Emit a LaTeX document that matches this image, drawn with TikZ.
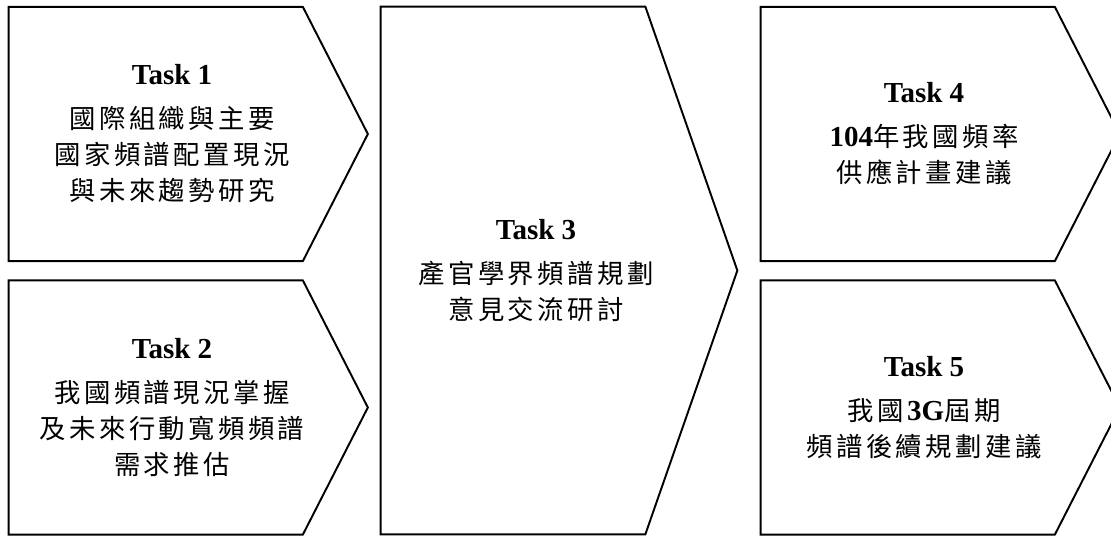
\documentclass[tikz,border=0pt]{standalone}
\usepackage{fontspec}
\setmainfont{Liberation Serif}
\newfontfamily\cjk[LetterSpace=13]{Noto Sans CJK TC}
\newcommand{\zh}[1]{{\cjk\fontsize{15}{20.5}\selectfont #1}}
\usetikzlibrary{calc}

\tikzset{
	task/.style={inner sep=0pt, minimum width=6.52cm, minimum height=5.07cm, align=center, font=\fontsize{16.5}{20.5}\selectfont},
	outline/.style={line width=1.1pt, line join=miter},
}

\begin{document}
\begin{tikzpicture}
	\useasboundingbox (0,0) rectangle (22.22,-10.76);

	\node [task] (T1) at (3.44,-2.68) {\textbf{Task 1}\\[4.5pt] \zh{國際組織與主要}\\ \zh{國家頻譜配置現況}\\ \zh{與未來趨勢研究}};
	\node [task] (T2) at (3.44,-8.15) {\textbf{Task 2}\\[4.5pt] \zh{我國頻譜現況掌握}\\ \zh{及未來行動寬頻頻譜}\\ \zh{需求推估}};
	\node [task, minimum width=6.20cm, minimum height=10.54cm] (T3) at (10.72,-5.41) {\textbf{Task 3}\\[4.5pt] \zh{產官學界頻譜規劃}\\ \zh{意見交流研討}};
	\node [task] (T4) at (18.48,-2.68) {\textbf{Task 4}\\[4.5pt] \textbf{104}\zh{年我國頻率}\\ \zh{供應計畫建議}};
	\node [task] (T5) at (18.48,-8.15) {\textbf{Task 5}\\[4.5pt] \zh{我國}\textbf{3G}\zh{屆期}\\ \zh{頻譜後續規劃建議}};

	% pentagon outlines round the task nodes
	\foreach \n/\d in {T1/0.65, T2/0.65, T3/0.92, T4/0.65, T5/0.65}
		\draw [outline] (\n.north west) -- ([xshift=-\d cm]\n.north east) -- ([xshift=\d cm]\n.east) -- ([xshift=-\d cm]\n.south east) -- (\n.south west) -- cycle;
\end{tikzpicture}
\end{document}
